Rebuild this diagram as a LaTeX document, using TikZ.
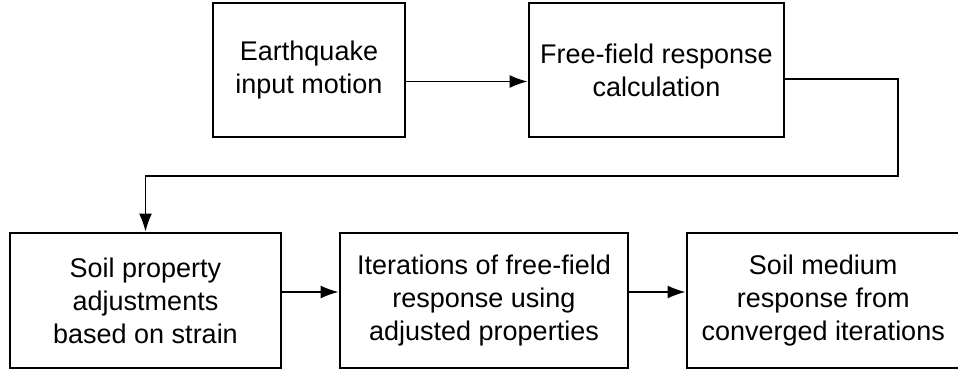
\documentclass[tikz,border=0pt]{standalone}
\usepackage{fontspec}
\setmainfont{Liberation Sans}
\usetikzlibrary{arrows.meta}
\begin{document}
\begin{tikzpicture}[x=1pt,y=-1pt,
  box/.style={draw=black, line width=2.8pt, rectangle, align=center, inner sep=0pt,
    font=\fontsize{27}{33}\selectfont, text=black},
  arr/.style={draw=black, line width=1.7pt, -{Latex[length=18pt,width=13pt]}}]
\useasboundingbox (0,0) rectangle (958,370);
\node[box, minimum width=192pt, minimum height=134pt] (b1) at (309,70) {Earthquake\\input motion};
\node[box, minimum width=255pt, minimum height=134pt] (b2) at (656.5,70) {Free-field response\\calculation};
\node[box, minimum width=271pt, minimum height=135pt] (b3) at (145.5,300.5) {Soil property\\adjustments\\based on strain};
\node[box, minimum width=288pt, minimum height=135pt] (b4) at (484,300.5) {Iterations of free-field\\response using\\adjusted properties};
\node[box, minimum width=272.5pt, minimum height=135pt] (b5) at (823.25,300.5) {Soil medium\\response from\\converged iterations};
\coordinate (c1) at (898,176);
\draw[arr] ([yshift=-11.5pt]b1.east) -- ([yshift=-11.5pt]b2.west);
\draw[arr] ([yshift=-9pt]b2.east) -| (c1) -| (b3.north);
\draw[arr] ([yshift=8.5pt]b3.east) -- ([yshift=8.5pt]b4.west);
\draw[arr] ([yshift=8.5pt]b4.east) -- ([yshift=8.5pt]b5.west);
\end{tikzpicture}
\end{document}
